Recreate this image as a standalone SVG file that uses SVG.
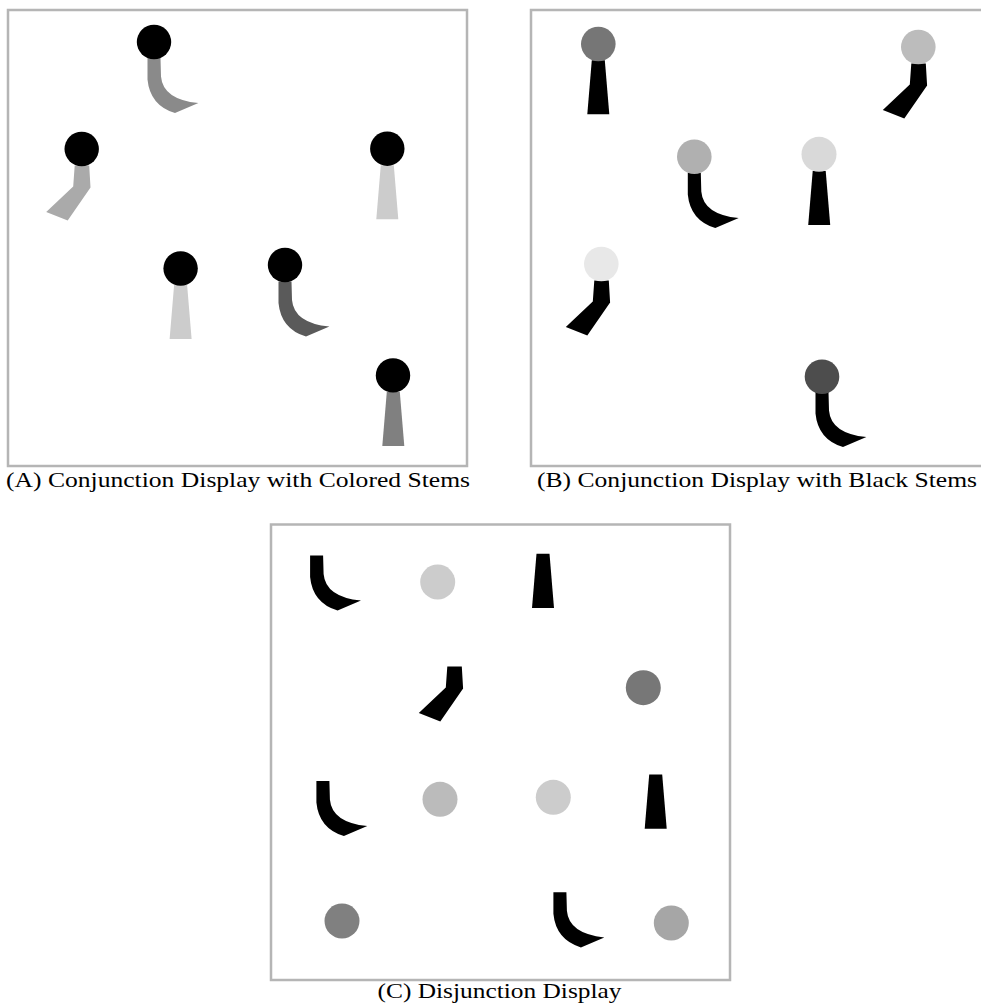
<svg xmlns="http://www.w3.org/2000/svg" xmlns:xlink="http://www.w3.org/1999/xlink" width="981" height="1005" viewBox="0 0 981 1005">
<style>
.frame{fill:none;stroke:#b5b5b5;stroke-width:2.5}
.cap{font-family:"Liberation Serif","Times New Roman",serif;font-size:21px;fill:#000}
.blk{fill:#000}
</style>
<defs>
<path id="curve" d="M-6.5,16.5 L6.5,16.5 L7,35 Q9,58 44.4,61.6 L21,71.6 Q-4,64 -6.5,38 Z"/>
<path id="bent" d="M-7,16.5 L7.5,16.5 L8.8,38.5 L-14,71.5 L-35.5,63 L-8.5,37.5 Z"/>
<path id="trap" d="M-6.5,16.5 L6.5,16.5 L11,70.6 L-11,70.6 Z"/>
</defs>
<rect width="981" height="1005" fill="#fff"/>

<g id="panelA">
<rect class="frame" x="8" y="10" width="459" height="456"/>
<g id="a1"><use xlink:href="#curve" x="154" y="41.5" fill="#8a8a8a"/><circle cx="154" cy="42" r="17.2" class="blk"/></g>
<g id="a2"><use xlink:href="#bent" x="81.7" y="149" fill="#aaaaaa"/><circle cx="81.7" cy="149" r="17.2" class="blk"/></g>
<g id="a3"><use xlink:href="#trap" x="387.3" y="148.7" fill="#cccccc"/><circle cx="387.3" cy="148.7" r="17.2" class="blk"/></g>
<g id="a4"><use xlink:href="#trap" x="180.6" y="268.5" fill="#cccccc"/><circle cx="180.6" cy="268.5" r="17.2" class="blk"/></g>
<g id="a5"><use xlink:href="#curve" x="285" y="265" fill="#5a5a5a"/><circle cx="285" cy="265" r="17.2" class="blk"/></g>
<g id="a6"><use xlink:href="#trap" x="393.3" y="375.4" fill="#808080"/><circle cx="393" cy="375.4" r="17.2" class="blk"/></g>
<text class="cap" transform="scale(1.2 1)" x="5" y="487" textLength="386.7" lengthAdjust="spacingAndGlyphs">(A) Conjunction Display with Colored Stems</text>
</g>

<g id="panelB">
<rect class="frame" x="531" y="10" width="460" height="456"/>
<g id="b1"><use xlink:href="#trap" x="598.3" y="43.7" class="blk"/><circle cx="598.3" cy="44" r="17.3" fill="#767676"/></g>
<g id="b2"><use xlink:href="#bent" x="918.3" y="47" class="blk"/><circle cx="918.3" cy="47" r="17.3" fill="#bcbcbc"/></g>
<g id="b3"><use xlink:href="#curve" x="694.3" y="156.5" class="blk"/><circle cx="694.3" cy="156.7" r="17.3" fill="#b0b0b0"/></g>
<g id="b4"><use xlink:href="#trap" x="819.2" y="154.4" class="blk"/><circle cx="819" cy="154.3" r="17.5" fill="#d9d9d9"/></g>
<g id="b5"><use xlink:href="#bent" x="601.3" y="264" class="blk"/><circle cx="601.3" cy="264" r="17.3" fill="#e8e8e8"/></g>
<g id="b6"><use xlink:href="#curve" x="822" y="375.5" class="blk"/><circle cx="822" cy="376.7" r="17.3" fill="#4d4d4d"/></g>
<text class="cap" transform="scale(1.2 1)" x="447.5" y="487" textLength="366.7" lengthAdjust="spacingAndGlyphs">(B) Conjunction Display with Black Stems</text>
</g>

<g id="panelC">
<rect class="frame" x="271" y="524.5" width="459" height="455.5"/>
<g id="c1"><use xlink:href="#curve" x="316.6" y="539" class="blk"/></g>
<g id="c2"><circle cx="437.7" cy="582" r="17.5" fill="#cccccc"/></g>
<g id="c3"><use xlink:href="#trap" x="543" y="537.3" class="blk"/></g>
<g id="c4"><use xlink:href="#bent" x="454.3" y="650" class="blk"/></g>
<g id="c5"><circle cx="643.3" cy="687.7" r="17.5" fill="#777777"/></g>
<g id="c6"><use xlink:href="#curve" x="322.9" y="764.5" class="blk"/></g>
<g id="c7"><circle cx="440" cy="799.3" r="17.5" fill="#bbbbbb"/></g>
<g id="c8"><circle cx="553.3" cy="797.3" r="17.5" fill="#cccccc"/></g>
<g id="c9"><use xlink:href="#trap" x="655.7" y="758.1" class="blk"/></g>
<g id="c10"><circle cx="342" cy="921" r="17.5" fill="#808080"/></g>
<g id="c11"><use xlink:href="#curve" x="559.9" y="875.8" class="blk"/></g>
<g id="c12"><circle cx="671.3" cy="923" r="17.5" fill="#a6a6a6"/></g>
<text class="cap" transform="scale(1.2 1)" x="314.6" y="998" textLength="203.3" lengthAdjust="spacingAndGlyphs">(C) Disjunction Display</text>
</g>

<g id="connectors"></g>
</svg>
